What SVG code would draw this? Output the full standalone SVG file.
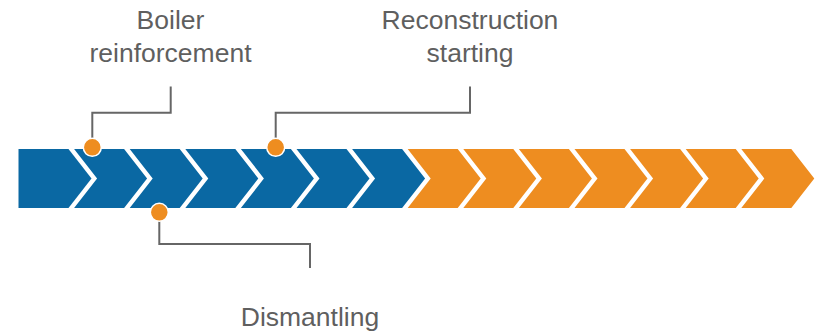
<svg xmlns="http://www.w3.org/2000/svg" width="816" height="333" viewBox="0 0 816 333">
<defs>
<style>
.b{fill:#0A68A3}
.o{fill:#EE8D20}
.dot{fill:#EE8D20;stroke:#ffffff;stroke-width:1.5}
.ln{fill:none;stroke:#666666;stroke-width:2}
.t{font-family:"Liberation Sans",Arial,sans-serif;font-size:26.5px;fill:#5f5f5f;text-anchor:middle}
</style>
<path id="chev" d="M0,0 H50 L73,29.5 L50,59 H0 L23,29.5 Z"/>
</defs>
<g id="bar">
<path class="b" d="M18.5,149 H68.5 L91.5,178.5 L68.5,208 H18.5 Z"/>
<use href="#chev" class="b" x="74.1" y="149"/>
<use href="#chev" class="b" x="129.7" y="149"/>
<use href="#chev" class="b" x="185.3" y="149"/>
<use href="#chev" class="b" x="240.9" y="149"/>
<use href="#chev" class="b" x="296.5" y="149"/>
<use href="#chev" class="b" x="352.1" y="149"/>
<use href="#chev" class="o" x="407.7" y="149"/>
<use href="#chev" class="o" x="463.3" y="149"/>
<use href="#chev" class="o" x="518.9" y="149"/>
<use href="#chev" class="o" x="574.5" y="149"/>
<use href="#chev" class="o" x="630.1" y="149"/>
<use href="#chev" class="o" x="685.7" y="149"/>
<use href="#chev" class="o" x="741.3" y="149"/>
</g>
<g id="connectors">
<path class="ln" d="M92.3,147 V112.7 H170.7 V86.5"/>
<path class="ln" d="M275.7,147 V112.7 H470 V86.5"/>
<path class="ln" d="M159.3,212 V244 H310 V268"/>
</g>
<g id="boiler">
<circle class="dot" cx="92.3" cy="147.3" r="9"/>
<text class="t" x="170.5" y="29">Boiler</text>
<text class="t" x="170.5" y="61.5">reinforcement</text>
</g>
<g id="reconstruction">
<circle class="dot" cx="275.7" cy="147.3" r="9"/>
<text class="t" x="470" y="29">Reconstruction</text>
<text class="t" x="470" y="61.5">starting</text>
</g>
<g id="dismantling">
<circle class="dot" cx="159.3" cy="212.3" r="9"/>
<text class="t" x="310" y="326">Dismantling</text>
</g>
</svg>
